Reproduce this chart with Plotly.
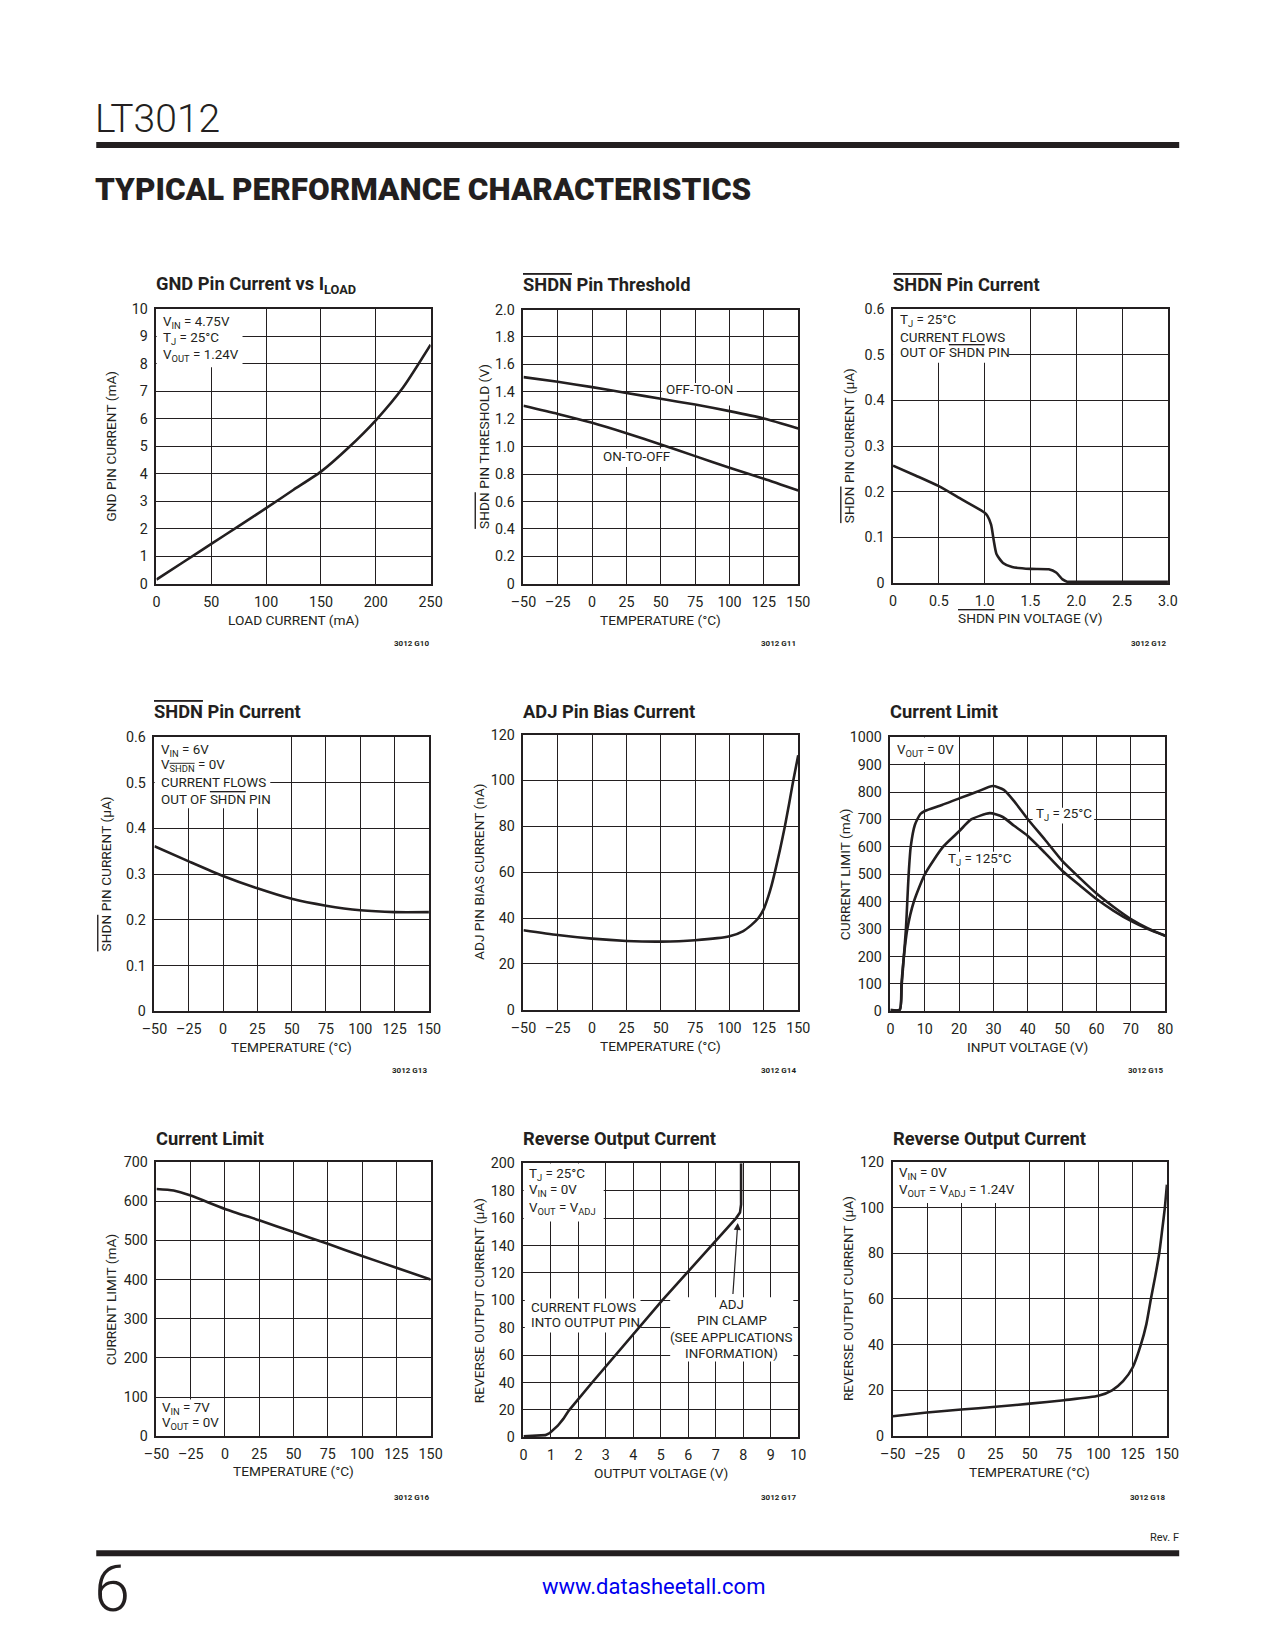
import plotly.graph_objects as go

# Figure size and a measured render calibration (page px = A + B * figure px)
W, H = 1259, 1634
AX, BX = 19.6, 0.982
AY, BY = 14.5, 0.991
FONT = "Roboto, Liberation Sans, sans-serif"
INK = "#231f20"

# ---------------- data ----------------
gnd_load = [0, 25, 50, 75, 100, 125, 150, 175, 200, 225, 250]
gnd_current = [0.15, 0.8, 1.45, 2.1, 2.75, 3.42, 4.08, 4.95, 5.95, 7.15, 8.7]

temp_9 = [-50, -25, 0, 25, 50, 75, 100, 125, 150]
thr_off_to_on = [1.507, 1.473, 1.434, 1.392, 1.349, 1.307, 1.259, 1.205, 1.132]
thr_on_to_off = [1.298, 1.239, 1.174, 1.098, 1.016, 0.931, 0.846, 0.766, 0.680]

shdn_volt = [0, 0.25, 0.5, 0.75, 1.0, 1.03, 1.07, 1.1, 1.13, 1.2, 1.3, 1.5, 1.7, 1.78, 1.85, 1.9, 2.0, 2.5, 3.0]
shdn_i_volt = [0.257, 0.235, 0.212, 0.183, 0.154, 0.147, 0.128, 0.092, 0.063, 0.044, 0.035, 0.031, 0.030,
               0.023, 0.008, 0.003, 0.003, 0.003, 0.003]

shdn_i_temp = [0.361, 0.328, 0.296, 0.269, 0.246, 0.231, 0.221, 0.217, 0.217]

adj_temp = [-50, -25, 0, 25, 50, 75, 100, 110, 116, 121, 125, 128, 130.5, 133, 136.8, 140.3, 143.4, 146.4, 150]
adj_bias = [34.7, 32.6, 31.0, 30.0, 29.7, 30.3, 32.0, 34.3, 37, 40, 44, 49, 54, 60, 70, 80, 90, 100, 111]

cl25_vin = [0, 2.7, 3.3, 3.9, 4.5, 4.9, 5.3, 5.9, 7.1, 8.7, 10, 15, 20, 25, 29.8, 33, 36, 40, 45, 50, 55, 60, 65, 70, 75, 80]
cl25_ilim = [5, 6, 100, 200, 300, 400, 500, 600, 680, 720, 731, 753, 777, 800, 822, 808, 767, 701, 626, 549, 488,
             430, 381, 337, 303, 276]
cl125_vin = [0, 2.7, 3.2, 3.9, 4.9, 6.8, 10, 15.3, 20, 23.5, 28.9, 32.7, 36, 40, 45, 50, 55, 60, 65, 70, 75, 80]
cl125_ilim = [5, 6, 100, 200, 300, 400, 500, 600, 657, 700, 723, 709, 677, 640, 578, 513, 461, 410, 367, 330, 300, 276]

cl_temp = [-50, -37.5, -25, 0, 25, 50, 75, 100, 125, 150]
cl_temp_ilim = [631, 627, 614, 580, 551, 521, 491, 460, 430, 400]

rev_vout = [0, 0.6, 0.8, 0.95, 1.1, 1.25, 1.45, 1.65, 2.5, 3.35, 4.2, 5.05, 5.95, 6.85, 7.74, 7.88, 7.92, 7.92]
rev_iout = [0.8, 1.0, 1.6, 3, 5.5, 8.5, 13.5, 19.5, 40, 60, 80, 100, 120, 140, 160, 164, 170, 200]

rev_temp = [-50, -25, 0, 25, 50, 75, 100, 110, 118, 125, 131, 135, 138.3, 141.5, 144.4, 146.5, 148.5, 150]
rev_temp_iout = [8.7, 10.3, 11.6, 12.8, 14.2, 15.7, 17.6, 20, 24, 30, 40, 49, 60, 70, 80, 90, 100, 110]

temp_ticks = [-50, -25, 0, 25, 50, 75, 100, 125, 150]
temp_ticktext = ["\u201350", "\u201325", "0", "25", "50", "75", "100", "125", "150"]


def OL(s):
    return f'<span style="text-decoration:overline">{s}</span>'


# ---------------- chart layout specs (page pixel rects) ----------------
charts = [
    dict(rect=(155.3, 307.7, 430, 582.7), xr=[0, 250], xt=[0, 50, 100, 150, 200, 250], xtt=None,
         yr=[0, 10], yt=list(range(0, 11)), ytt=None,
         title="GND Pin Current vs I<sub>LOAD</sub>", xtitle="LOAD CURRENT (mA)",
         ytitle="GND PIN CURRENT (mA)", code="3012 G10", ytx=110),
    dict(rect=(523, 308.3, 798.3, 582.7), xr=[-50, 150], xt=temp_ticks, xtt=temp_ticktext,
         yr=[0, 2.0], yt=[0, 0.2, 0.4, 0.6, 0.8, 1.0, 1.2, 1.4, 1.6, 1.8, 2.0],
         ytt=["0", "0.2", "0.4", "0.6", "0.8", "1.0", "1.2", "1.4", "1.6", "1.8", "2.0"],
         title=OL("SHDN") + " Pin Threshold", xtitle="TEMPERATURE (\u00b0C)",
         ytitle=OL("SHDN") + " PIN THRESHOLD (V)", code="3012 G11", ytx=482.7),
    dict(rect=(893.3, 307.7, 1168.7, 582), xr=[0, 3.0], xt=[0, 0.5, 1.0, 1.5, 2.0, 2.5, 3.0],
         xtt=["0", "0.5", "1.0", "1.5", "2.0", "2.5", "3.0"],
         yr=[0, 0.6], yt=[0, 0.1, 0.2, 0.3, 0.4, 0.5, 0.6], ytt=["0", "0.1", "0.2", "0.3", "0.4", "0.5", "0.6"],
         title=OL("SHDN") + " Pin Current", xtitle=OL("SHDN") + " PIN VOLTAGE (V)",
         ytitle=OL("SHDN") + " PIN CURRENT (\u00b5A)", code="3012 G12", ytx=849.3),
    dict(rect=(153.3, 736, 428.3, 1010.7), xr=[-50, 150], xt=temp_ticks, xtt=temp_ticktext,
         yr=[0, 0.6], yt=[0, 0.1, 0.2, 0.3, 0.4, 0.5, 0.6], ytt=["0", "0.1", "0.2", "0.3", "0.4", "0.5", "0.6"],
         title=OL("SHDN") + " Pin Current", xtitle="TEMPERATURE (\u00b0C)",
         ytitle=OL("SHDN") + " PIN CURRENT (\u00b5A)", code="3012 G13", ytx=105),
    dict(rect=(523, 733.7, 798.3, 1009), xr=[-50, 150], xt=temp_ticks, xtt=temp_ticktext,
         yr=[0, 120], yt=[0, 20, 40, 60, 80, 100, 120], ytt=None,
         title="ADJ Pin Bias Current", xtitle="TEMPERATURE (\u00b0C)",
         ytitle="ADJ PIN BIAS CURRENT (nA)", code="3012 G14", ytx=478.3),
    dict(rect=(890.7, 736.3, 1166, 1010.7), xr=[0, 80], xt=[0, 10, 20, 30, 40, 50, 60, 70, 80], xtt=None,
         yr=[0, 1000], yt=list(range(0, 1001, 100)), ytt=[str(v) for v in range(0, 1001, 100)],
         title="Current Limit", xtitle="INPUT VOLTAGE (V)",
         ytitle="CURRENT LIMIT (mA)", code="3012 G15", ytx=845),
    dict(rect=(155.3, 1161.3, 430, 1436), xr=[-50, 150], xt=temp_ticks, xtt=temp_ticktext,
         yr=[0, 700], yt=list(range(0, 701, 100)), ytt=None,
         title="Current Limit", xtitle="TEMPERATURE (\u00b0C)",
         ytitle="CURRENT LIMIT (mA)", code="3012 G16", ytx=110),
    dict(rect=(523, 1162.7, 798.3, 1437), xr=[0, 10], xt=list(range(0, 11)), xtt=None,
         yr=[0, 200], yt=list(range(0, 201, 20)), ytt=None,
         title="Reverse Output Current", xtitle="OUTPUT VOLTAGE (V)",
         ytitle="REVERSE OUTPUT CURRENT (\u00b5A)", code="3012 G17", ytx=478.3),
    dict(rect=(893, 1161.3, 1167.7, 1435.7), xr=[-50, 150], xt=temp_ticks, xtt=temp_ticktext,
         yr=[0, 120], yt=[0, 20, 40, 60, 80, 100, 120], ytt=None,
         title="Reverse Output Current", xtitle="TEMPERATURE (\u00b0C)",
         ytitle="REVERSE OUTPUT CURRENT (\u00b5A)", code="3012 G18", ytx=848.3),
]

series = [
    (0, gnd_load, gnd_current),
    (1, temp_9, thr_off_to_on),
    (1, temp_9, thr_on_to_off),
    (2, shdn_volt, shdn_i_volt),
    (3, temp_9, shdn_i_temp),
    (4, adj_temp, adj_bias),
    (5, cl25_vin, cl25_ilim),
    (5, cl125_vin, cl125_ilim),
    (6, cl_temp, cl_temp_ilim),
    (7, rev_vout, rev_iout),
    (8, rev_temp, rev_temp_iout),
]

# white blank-outs behind labels (data coords): chart index, x0, x1, y0, y1
blanks = [
    (0, 0, 78.5, 7.88, 10),
    (1, 50.8, 105.3, 1.30, 1.465),
    (1, 7.2, 57.3, 0.851, 0.987),
    (2, 0, 1.264, 0.482, 0.6),
    (3, -50, 34.4, 0.444, 0.6),
    (5, 0, 19.5, 910, 1000),
    (5, 41.4, 59.3, 685, 743),
    (5, 15.8, 35.2, 523, 582),
    (6, -50, -2.4, 0, 94),
    (7, 0, 2.92, 157.5, 200),
    (7, 0.05, 4.26, 76.6, 101.3),
    (7, 5.34, 9.82, 55.4, 102.3),
    (8, -50, 43.7, 102, 120),
]

# in-plot labels (page pixel positions): text, x, y, xanchor
labels = [
    ("V<sub>IN</sub> = 4.75V", 159.5, 321.7, "left"),
    ("T<sub>J</sub> = 25\u00b0C", 159.5, 337.3, "left"),
    ("V<sub>OUT</sub> = 1.24V", 159.5, 354, "left"),
    ("OFF-TO-ON", 699.3, 388.3, "center"),
    ("ON-TO-OFF", 636.7, 455, "center"),
    ("T<sub>J</sub> = 25\u00b0C", 898, 319.3, "left"),
    ("CURRENT FLOWS", 898, 336, "left"),
    ("OUT OF " + OL("SHDN") + " PIN", 898, 351.7, "left"),
    ("V<sub>IN</sub> = 6V", 158, 749.3, "left"),
    ("V<sub>" + OL("SHDN") + "</sub> = 0V", 158, 765, "left"),
    ("CURRENT FLOWS", 158, 781.7, "left"),
    ("OUT OF " + OL("SHDN") + " PIN", 158, 798.3, "left"),
    ("V<sub>OUT</sub> = 0V", 895, 749.3, "left"),
    ("T<sub>J</sub> = 25\u00b0C", 1035, 814, "left"),
    ("T<sub>J</sub> = 125\u00b0C", 946, 858.3, "left"),
    ("V<sub>IN</sub> = 7V", 159, 1407.7, "left"),
    ("V<sub>OUT</sub> = 0V", 159, 1423.3, "left"),
    ("T<sub>J</sub> = 25\u00b0C", 527, 1174.3, "left"),
    ("V<sub>IN</sub> = 0V", 527, 1190, "left"),
    ("V<sub>OUT</sub> = V<sub>ADJ</sub>", 527, 1207.7, "left"),
    ("CURRENT FLOWS", 529, 1306.7, "left"),
    ("INTO OUTPUT PIN", 529, 1322.3, "left"),
    ("ADJ", 731.7, 1304, "center"),
    ("PIN CLAMP", 731.7, 1320, "center"),
    ("(SEE APPLICATIONS", 731.7, 1336.7, "center"),
    ("INFORMATION)", 731.7, 1353.3, "center"),
    ("V<sub>IN</sub> = 0V", 897, 1173.3, "left"),
    ("V<sub>OUT</sub> = V<sub>ADJ</sub> = 1.24V", 897, 1190, "left"),
]

title_y = [284, 283.3, 283.3, 710.7, 710.7, 710.7, 1137.7, 1138.3, 1138.3]
xtitle_y = [619, 619, 616.7, 1046.7, 1045, 1046.7, 1471, 1472.7, 1471.7]
code_y = [642.7, 642.7, 642.7, 1070, 1070, 1070, 1496.7, 1496.7, 1496.7]

TICK_SIZE = 14.3
AXT_SIZE = 13.7
LBL_SIZE = 13.4


def fx(px):
    return ((px - AX) / BX) / W


def fy(py):
    return 1 - ((py - AY) / BY) / H


fig = go.Figure()
layout = dict(
    width=W, height=H, margin=dict(l=0, r=0, t=0, b=0),
    paper_bgcolor="white", plot_bgcolor="white", showlegend=False,
    font=dict(family=FONT, color=INK),
)
annotations = []
shapes = []

for i, c in enumerate(charts):
    n = "" if i == 0 else str(i + 1)
    x0, y0, x1, y1 = c["rect"]
    common = dict(showgrid=True, gridcolor=INK, gridwidth=1, showline=True, linecolor=INK, linewidth=1.5,
                  mirror=True, zeroline=False, ticks="", tickfont=dict(family=FONT, size=TICK_SIZE, color=INK),
                  fixedrange=True, ticklabelstandoff=4)
    xa = dict(common, domain=[fx(x0), fx(x1)], range=c["xr"], tickmode="array", tickvals=c["xt"],
              anchor="y" + n)
    if c["xtt"]:
        xa["ticktext"] = c["xtt"]
    ya = dict(common, domain=[fy(y1), fy(y0)], range=c["yr"], tickmode="array", tickvals=c["yt"],
              anchor="x" + n)
    if c["ytt"]:
        ya["ticktext"] = c["ytt"]
    layout["xaxis" + n] = xa
    layout["yaxis" + n] = ya

    cx = (x0 + x1) / 2
    cy = (y0 + y1) / 2
    annotations.append(dict(text="<b>" + c["title"] + "</b>", x=fx(x0 - 2), y=fy(title_y[i]), xref="paper",
                            yref="paper", xanchor="left", yanchor="middle", showarrow=False,
                            font=dict(family=FONT, size=18.3, color=INK)))
    annotations.append(dict(text=c["xtitle"], x=fx(cx), y=fy(xtitle_y[i]), xref="paper", yref="paper",
                            xanchor="center", yanchor="middle", showarrow=False,
                            font=dict(family=FONT, size=AXT_SIZE, color=INK)))
    annotations.append(dict(text=c["ytitle"], x=fx(c["ytx"]), y=fy(cy), xref="paper", yref="paper",
                            xanchor="center", yanchor="middle", showarrow=False, textangle=-90,
                            font=dict(family=FONT, size=AXT_SIZE, color=INK)))
    annotations.append(dict(text="<b>" + c["code"] + "</b>", x=fx(x1), y=fy(code_y[i]), xref="paper",
                            yref="paper", xanchor="right", yanchor="middle", showarrow=False,
                            font=dict(family=FONT, size=8, color=INK)))

for ci, xs, ys in series:
    n = "" if ci == 0 else str(ci + 1)
    shape = "linear" if ci == 7 else "spline"
    fig.add_trace(go.Scatter(x=xs, y=ys, mode="lines", xaxis="x" + n, yaxis="y" + n,
                             line=dict(color=INK, width=2.6, shape=shape, smoothing=0.6),
                             hoverinfo="skip", showlegend=False))

for ci, bx0, bx1, by0, by1 in blanks:
    n = "" if ci == 0 else str(ci + 1)
    shapes.append(dict(type="rect", xref="x" + n, yref="y" + n, x0=bx0, x1=bx1, y0=by0, y1=by1,
                       fillcolor="white", line=dict(width=0), layer="between"))

for text, px, py, xa in labels:
    annotations.append(dict(text=text, x=fx(px), y=fy(py), xref="paper", yref="paper", xanchor=xa,
                            yanchor="middle", showarrow=False, font=dict(family=FONT, size=LBL_SIZE, color=INK)))

# arrow in chart 8 (ADJ pin clamp)
annotations.append(dict(text="", x=7.80, y=156.5, xref="x8", yref="y8", ax=7.62, ay=103.5, axref="x8",
                        ayref="y8", showarrow=True, arrowhead=2, arrowsize=1.2, arrowwidth=1.2,
                        arrowcolor=INK, standoff=0))

# page furniture
annotations.append(dict(text="LT3012", x=fx(92), y=fy(117.5), xref="paper", yref="paper", xanchor="left",
                        yanchor="middle", showarrow=False,
                        font=dict(family=FONT, size=39, color=INK, weight=300)))
annotations.append(dict(text="TYPICAL PERFORMANCE CHARACTERISTICS", x=fx(92), y=fy(188),
                        xref="paper", yref="paper", xanchor="left", yanchor="middle", showarrow=False,
                        font=dict(family=FONT, size=31.5, color=INK, weight=900)))
annotations.append(dict(text="Rev. F", x=fx(1182), y=fy(1537), xref="paper", yref="paper", xanchor="right",
                        yanchor="middle", showarrow=False, font=dict(family=FONT, size=11, color=INK)))
annotations.append(dict(text="6", x=fx(91), y=fy(1589), xref="paper", yref="paper", xanchor="left",
                        yanchor="middle", showarrow=False,
                        font=dict(family=FONT, size=65, color=INK, weight=300)))
annotations.append(dict(text="www.datasheetall.com", x=fx(653), y=fy(1586), xref="paper", yref="paper",
                        xanchor="center", yanchor="middle", showarrow=False,
                        font=dict(family=FONT, size=22, color="#0000ee")))

shapes.append(dict(type="rect", xref="paper", yref="paper", x0=fx(95), x1=fx(1180), y0=fy(146.5), y1=fy(140.5),
                   fillcolor=INK, line=dict(width=0)))
shapes.append(dict(type="rect", xref="paper", yref="paper", x0=fx(95), x1=fx(1180), y0=fy(1556), y1=fy(1550),
                   fillcolor=INK, line=dict(width=0)))

layout["annotations"] = annotations
layout["shapes"] = shapes
fig.update_layout(**layout)
fig.write_html("out.html")
